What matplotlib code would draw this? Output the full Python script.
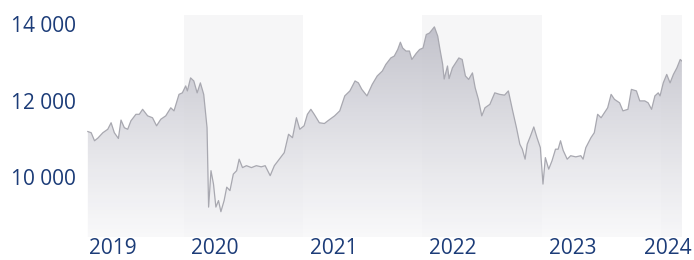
import numpy as np
import matplotlib
matplotlib.use("Agg")
import matplotlib.pyplot as plt
from matplotlib.transforms import ScaledTranslation

# Data: decimal year, index value
years = [2019.197, 2019.225, 2019.253, 2019.281, 2019.323, 2019.364, 2019.392, 2019.419, 2019.453, 2019.475,
         2019.503, 2019.531, 2019.558, 2019.600, 2019.628, 2019.656, 2019.698, 2019.739, 2019.773, 2019.808,
         2019.850, 2019.892, 2019.919, 2019.961, 2019.989,
         2020.017, 2020.031, 2020.058, 2020.085, 2020.113, 2020.140, 2020.168, 2020.196, 2020.209, 2020.229,
         2020.250, 2020.270, 2020.292, 2020.312, 2020.339, 2020.361, 2020.388, 2020.416, 2020.444, 2020.465,
         2020.493, 2020.526, 2020.568, 2020.609, 2020.650, 2020.683, 2020.725, 2020.760, 2020.802, 2020.843,
         2020.879, 2020.912, 2020.945, 2020.973,
         2021.009, 2021.037, 2021.066, 2021.094, 2021.137, 2021.179, 2021.208, 2021.265, 2021.308, 2021.350,
         2021.393, 2021.436, 2021.464, 2021.493, 2021.536, 2021.580, 2021.622, 2021.665, 2021.694, 2021.736,
         2021.765, 2021.794, 2021.816, 2021.835, 2021.863, 2021.892, 2021.912, 2021.949, 2021.977,
         2022.006, 2022.033, 2022.060, 2022.101, 2022.129, 2022.148, 2022.170, 2022.183, 2022.211, 2022.224,
         2022.252, 2022.306, 2022.334, 2022.361, 2022.388, 2022.420, 2022.443, 2022.470, 2022.498, 2022.525,
         2022.566, 2022.607, 2022.648, 2022.689, 2022.721, 2022.757, 2022.789, 2022.817, 2022.838, 2022.861,
         2022.879, 2022.907, 2022.934, 2022.961, 2022.989,
         2023.011, 2023.031, 2023.059, 2023.087, 2023.116, 2023.138, 2023.158, 2023.180, 2023.214, 2023.243,
         2023.286, 2023.328, 2023.347, 2023.370, 2023.413, 2023.441, 2023.469, 2023.498, 2023.525, 2023.553,
         2023.582, 2023.610, 2023.653, 2023.681, 2023.723, 2023.752, 2023.794, 2023.822, 2023.864, 2023.892,
         2023.921, 2023.949, 2023.977, 2023.992,
         2024.019, 2024.048, 2024.076, 2024.104, 2024.133, 2024.161, 2024.175]
values = [11190, 11160, 10950, 11020, 11160, 11250, 11420, 11160, 11010, 11490,
          11290, 11250, 11470, 11640, 11640, 11770, 11600, 11550, 11340, 11510,
          11600, 11810, 11730, 12160, 12200,
          12380, 12250, 12590, 12510, 12200, 12460, 12160, 11290, 9220, 10170,
          9820, 9220, 9390, 9100, 9390, 9740, 9650, 10080, 10170, 10470,
          10250, 10300, 10250, 10300, 10270, 10300, 10040, 10300, 10470, 10640,
          11120, 11030, 11550, 11250,
          11340, 11640, 11770, 11640, 11420, 11400, 11470, 11600, 11730, 12120,
          12250, 12510, 12460, 12290, 12120, 12420, 12640, 12770, 12940, 13110,
          13160, 13330, 13520, 13370, 13290, 13290, 13070, 13230, 13330,
          13370, 13720, 13760, 13920, 13680, 13330, 12950, 12560, 12900, 12570,
          12850, 13110, 13070, 12640, 12550, 12720, 12330, 12030, 11600, 11810,
          11900, 12200, 12160, 12140, 12250, 11730, 11290, 10860, 10730, 10470,
          10860, 11080, 11310, 11030, 10770,
          9820, 10510, 10210, 10430, 10730, 10730, 10950, 10700, 10470, 10560,
          10530, 10560, 10470, 10770, 11030, 11160, 11640, 11550, 11680, 11810,
          12160, 12030, 11940, 11730, 11770, 12290, 12250, 11990, 11990, 11940,
          11770, 12120, 12200, 12120,
          12460, 12680, 12460, 12680, 12850, 13070, 13030]

year_labels = ["2019", "2020", "2021", "2022", "2023", "2024"]
y_ticks = [10000, 12000, 14000]
y_tick_labels = ["10 000", "12 000", "14 000"]

x_min, x_max = 2019.19, 2024.176
y_min, y_max = 8440, 14230

label_color = "#1c3c78"
font = "Open Sans"

fig = plt.figure(figsize=(6.94, 2.60), dpi=100)
ax = fig.add_axes([87 / 694, 23 / 260, 595 / 694, 222 / 260])
ax.set_xlim(x_min, x_max)
ax.set_ylim(y_min, y_max)

# alternating year bands
for i, lab in enumerate(year_labels):
    y0 = int(lab)
    if i % 2 == 1:
        ax.axvspan(y0, y0 + 1, color="#f6f6f7", lw=0, zorder=0)

x = np.array(years)
v = np.array(values)

# gradient fill under the line
grad = np.linspace(0, 1, 256).reshape(-1, 1)
top = np.array([188, 188, 198]) / 255.0
bot = np.array([247, 247, 249]) / 255.0
rgba = np.zeros((256, 1, 4))
for c in range(3):
    rgba[:, 0, c] = bot[c] + (top[c] - bot[c]) * grad[:, 0]
rgba[:, 0, 3] = 0.75 + 0.2 * grad[:, 0]
im = ax.imshow(rgba, extent=[x_min, x_max, y_min, y_max], origin="lower",
               aspect="auto", zorder=1, interpolation="bilinear")
poly = ax.fill_between(x, v, y_min, color="none", lw=0)
path = poly.get_paths()[0]
im.set_clip_path(path, transform=ax.transData)

ax.plot(x, v, color="#a8a8b0", lw=0.9, zorder=2)

for s in ax.spines.values():
    s.set_visible(False)

ax.set_yticks(y_ticks)
ax.set_yticklabels(y_tick_labels, fontfamily=font, fontsize=15, color=label_color)
ax.tick_params(axis="y", length=0, pad=8)
ax.set_xticks([])

# year labels: left-aligned just after the start of each year, kept inside
for lab in year_labels:
    y0 = int(lab)
    if y0 < x_min:
        xpos, ha, dx = x_min, "left", 2
    elif y0 + 0.4 > x_max:
        xpos, ha, dx = x_max, "right", 10
    else:
        xpos, ha, dx = y0, "left", 7
    tr = ax.get_xaxis_transform() + ScaledTranslation(dx / 100, -17 / 100, fig.dpi_scale_trans)
    ax.text(xpos, 0, lab, transform=tr, ha=ha, va="baseline", fontfamily=font,
            fontsize=15, color=label_color)

fig.savefig("out.png", dpi=100)
